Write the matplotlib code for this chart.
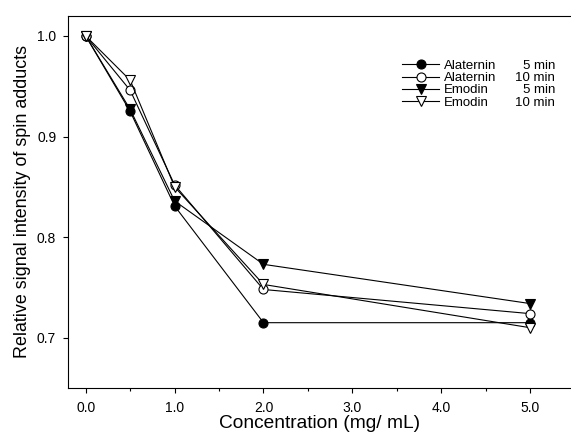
import numpy as np
import matplotlib
matplotlib.use("Agg")
import matplotlib.pyplot as plt
from matplotlib.ticker import MultipleLocator

plt.rcParams['font.family'] = ['Liberation Sans', 'DejaVu Sans']

conc = [0.0, 0.5, 1.0, 2.0, 5.0]
alaternin_5 = [1.000, 0.925, 0.831, 0.715, 0.715]
alaternin_10 = [1.000, 0.946, 0.852, 0.748, 0.724]
emodin_5 = [1.000, 0.927, 0.836, 0.773, 0.734]
emodin_10 = [1.000, 0.956, 0.850, 0.753, 0.710]

names = ["Alaternin", "Alaternin", "Emodin", "Emodin"]
times = ["5 min", "10 min", "5 min", "10 min"]
series = [alaternin_5, alaternin_10, emodin_5, emodin_10]
markers = ["o", "o", "v", "v"]
faces = ["black", "white", "black", "white"]

fig = plt.figure(figsize=(5.71, 4.40), dpi=100)
ax = fig.add_axes([0.119, 0.118, 0.881, 0.846])

for vals, m, fc, nm in zip(series, markers, faces, names):
    ax.plot(conc, vals, color="black", linewidth=0.8, marker=m, markersize=6.5,
            markerfacecolor=fc, markeredgecolor="black", markeredgewidth=0.8, label=nm)

ax.set_xlim(-0.2, 5.46)
ax.set_ylim(0.65, 1.02)
ax.set_xticks([0, 1, 2, 3, 4, 5])
ax.set_xticklabels(["0.0", "1.0", "2.0", "3.0", "4.0", "5.0"])
ax.xaxis.set_minor_locator(MultipleLocator(0.5))
ax.set_yticks([0.7, 0.8, 0.9, 1.0])
ax.set_yticklabels(["0.7", "0.8", "0.9", "1.0"])
ax.tick_params(which="major", direction="out", length=3.5, width=0.8, labelsize=10)
ax.tick_params(axis="x", which="major", pad=6)
ax.tick_params(axis="y", which="major", pad=5)
ax.tick_params(which="minor", direction="out", length=2.5, width=0.8)
ax.spines["right"].set_visible(False)
for s in ["left", "top", "bottom"]:
    ax.spines[s].set_linewidth(0.8)

ax.set_xlabel("Concentration (mg/ mL)", fontsize=13.8, labelpad=0)
ax.set_ylabel("Relative signal intensity of spin adducts", fontsize=12.9, labelpad=4)

leg = ax.legend(loc="upper left", bbox_to_anchor=(0.665, 0.882), frameon=False,
                fontsize=9.5, handlelength=2.8, handletextpad=0.35,
                labelspacing=0.0, borderpad=0, borderaxespad=0)

fig.canvas.draw()
renderer = fig.canvas.get_renderer()
inv = fig.transFigure.inverted()
for txt, t in zip(leg.get_texts(), times):
    bb = txt.get_window_extent(renderer)
    y = inv.transform((0, bb.y0))[1]
    fig.text(555 / 571, y, t, ha="right", va="bottom", fontsize=9.5)

fig.savefig("out.png", dpi=100)
